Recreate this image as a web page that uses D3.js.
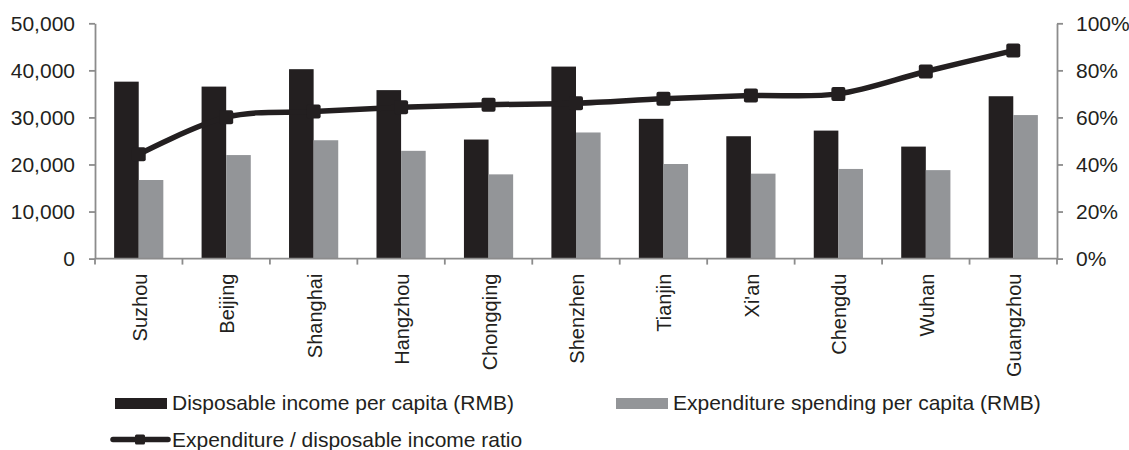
<!DOCTYPE html>
<html>
<head>
<meta charset="utf-8">
<script src="https://cdn.jsdelivr.net/npm/d3@7/dist/d3.min.js"></script>
<style>
  html, body { margin: 0; padding: 0; background: #fff; }
  svg { display: block; font-family: "Liberation Sans", Arial, sans-serif; }
</style>
</head>
<body>
<svg id="chart" width="1129" height="450"></svg>
<script>
// City-level income, spending and spending ratio
const cities = ["Suzhou", "Beijing", "Shanghai", "Hangzhou", "Chongqing", "Shenzhen",
                "Tianjin", "Xi'an", "Chengdu", "Wuhan", "Guangzhou"];
const incomeRMB = [37600, 36550, 40250, 35800, 25300, 40800, 29700, 26000, 27200, 23800, 34500];
const spendingRMB = [16700, 22000, 25150, 22900, 17900, 26800, 20100, 18050, 19050, 18800, 30500];
const spendRatio = [0.443, 0.601, 0.625, 0.643, 0.654, 0.660, 0.679, 0.693, 0.700, 0.795, 0.884];
const leftTicks = [0, 10000, 20000, 30000, 40000, 50000];
const rightTicks = [0, 0.2, 0.4, 0.6, 0.8, 1.0];
const seriesNames = ["Disposable income per capita (RMB)",
                     "Expenditure spending per capita (RMB)",
                     "Expenditure / disposable income ratio"];

const ink = "#231f20";
const barDark = "#231f20";
const barGray = "#939598";
const axisGray = "#8c8c8c";
const tickFont = 21;
const catFont = 20;
const legendFont = 21;

const svg = d3.select("#chart");
const plot = { left: 95, right: 1057, top: 23.3, bottom: 258.6 };

const x = d3.scaleBand().domain(cities).range([plot.left, plot.right]).padding(0);
const barW = 24.6;
const sub = d3.scaleBand().domain([0, 1]).range([-barW, barW]).padding(0);
const yL = d3.scaleLinear().domain([0, 50000]).range([plot.bottom, plot.top]);
const yR = d3.scaleLinear().domain([0, 1]).range([plot.bottom, plot.top]);

// Bars
const g = svg.append("g");
const groups = g.selectAll("g.city").data(cities).join("g")
  .attr("transform", d => `translate(${x(d) + x.bandwidth() / 2},0)`);
groups.append("rect")
  .attr("x", sub(0)).attr("width", sub.bandwidth())
  .attr("y", (d, i) => yL(incomeRMB[i]))
  .attr("height", (d, i) => yL(0) - yL(incomeRMB[i]))
  .attr("fill", barDark);
groups.append("rect")
  .attr("x", sub(1)).attr("width", sub.bandwidth())
  .attr("y", (d, i) => yL(spendingRMB[i]))
  .attr("height", (d, i) => yL(0) - yL(spendingRMB[i]))
  .attr("fill", barGray);

// Axes
function styleAxis(sel) {
  sel.selectAll("path, line").attr("stroke", axisGray).attr("stroke-width", 1.8);
  sel.selectAll("text").attr("fill", ink).style("font-size", tickFont + "px")
     .style("font-family", "'Liberation Sans', Arial, sans-serif");
}

const leftAxis = svg.append("g").attr("transform", `translate(${plot.left},0)`)
  .call(d3.axisLeft(yL).tickValues(leftTicks).tickSize(6).tickPadding(14)
    .tickSizeOuter(0).tickFormat(d3.format(",")));
styleAxis(leftAxis);

const rightAxis = svg.append("g").attr("transform", `translate(${plot.right},0)`)
  .call(d3.axisRight(yR).tickValues(rightTicks).tickSize(6).tickPadding(13)
    .tickSizeOuter(0).tickFormat(d3.format(".0%")));
styleAxis(rightAxis);

// Category axis: ticks at band boundaries, labels rotated
const xAxis = svg.append("g").attr("transform", `translate(0,${plot.bottom})`);
xAxis.append("line")
  .attr("x1", plot.left).attr("x2", plot.right)
  .attr("stroke", axisGray).attr("stroke-width", 1.8);
const boundaries = cities.map(c => x(c)).concat([plot.right]);
xAxis.selectAll("line.tick").data(boundaries).join("line")
  .attr("class", "tick")
  .attr("x1", d => d).attr("x2", d => d).attr("y1", 0).attr("y2", 6)
  .attr("stroke", axisGray).attr("stroke-width", 1.8);
xAxis.selectAll("text").data(cities).join("text")
  .attr("transform", d => `translate(${x(d) + x.bandwidth() / 2},15) rotate(-90)`)
  .attr("text-anchor", "end")
  .attr("dy", 8)
  .attr("fill", ink)
  .style("font-size", catFont + "px")
  .text(d => d);

// Ratio line (smoothed) with square markers
const pts = cities.map((c, i) => [x(c) + x.bandwidth() / 2, yR(spendRatio[i])]);
svg.append("path")
  .attr("d", d3.line().curve(d3.curveCatmullRom.alpha(0))(pts))
  .attr("fill", "none").attr("stroke", ink).attr("stroke-width", 5.5);
const m = 14;
svg.selectAll("rect.marker").data(pts).join("rect")
  .attr("class", "marker")
  .attr("x", d => d[0] - m / 2).attr("y", d => d[1] - m / 2)
  .attr("width", m).attr("height", m).attr("rx", 2)
  .attr("fill", ink);

// Legend
const legend = svg.append("g").style("font-size", legendFont + "px");
function legendText(xp, yp, t) {
  legend.append("text").attr("x", xp).attr("y", yp).attr("fill", ink).text(t);
}
legend.append("rect").attr("x", 115).attr("y", 398).attr("width", 52).attr("height", 11).attr("fill", barDark);
legendText(172, 410, seriesNames[0]);
legend.append("rect").attr("x", 616).attr("y", 398).attr("width", 52).attr("height", 11).attr("fill", barGray);
legendText(673, 410, seriesNames[1]);
legend.append("line").attr("x1", 113).attr("x2", 168).attr("y1", 439.5).attr("y2", 439.5)
  .attr("stroke", ink).attr("stroke-width", 5.5).attr("stroke-linecap", "round");
legend.append("rect").attr("x", 135).attr("y", 434.5).attr("width", 10).attr("height", 10).attr("rx", 1.5).attr("fill", ink);
legendText(172, 446.5, seriesNames[2]);
</script>
</body>
</html>
